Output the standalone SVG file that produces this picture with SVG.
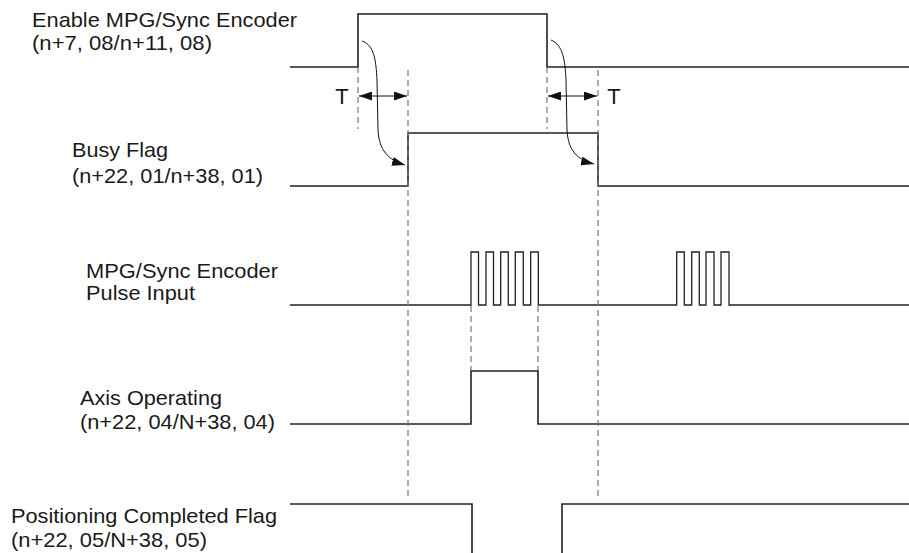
<svg xmlns="http://www.w3.org/2000/svg" width="909" height="553" viewBox="0 0 909 553">
<style>
text{font-family:"Liberation Sans",Arial,sans-serif;font-size:21px;fill:#1a1a1a}
.wave{fill:none;stroke:#222;stroke-width:1.6}
.dash{fill:none;stroke:#777;stroke-width:1.2;stroke-dasharray:6,4}
.arr{fill:none;stroke:#111;stroke-width:1}
.curve{fill:none;stroke:#111;stroke-width:1}
</style>
<defs>
<marker id="ah" viewBox="0 0 13 9" refX="13" refY="4.5" markerWidth="13" markerHeight="9" markerUnits="userSpaceOnUse" orient="auto-start-reverse">
<path d="M0,0 L13,4.5 L0,9 Z" fill="#111"/>
</marker>
</defs>
<g id="enable">
<text x="32" y="27" textLength="265" lengthAdjust="spacingAndGlyphs">Enable MPG/Sync Encoder</text>
<text x="32" y="50" textLength="180" lengthAdjust="spacingAndGlyphs">(n+7, 08/n+11, 08)</text>
<path class="wave" d="M290,67 H358 V14 H547 V67 H909"/>
</g>
<g id="busy">
<text x="72" y="157" textLength="96" lengthAdjust="spacingAndGlyphs">Busy Flag</text>
<text x="72" y="183" textLength="191" lengthAdjust="spacingAndGlyphs">(n+22, 01/n+38, 01)</text>
<path class="wave" d="M290,186 H408 V133 H598 V186 H909"/>
</g>
<g id="pulse">
<text x="86" y="278" textLength="192" lengthAdjust="spacingAndGlyphs">MPG/Sync Encoder</text>
<text x="86" y="300" textLength="109" lengthAdjust="spacingAndGlyphs">Pulse Input</text>
<path class="wave" style="stroke-width:1.3" d="M290,305 H471 V252 H478.5 V305 H486 V252 H493.5 V305 H500.7 V252 H508.3 V305 H515.3 V252 H523.3 V305 H530.7 V252 H538.3 V305 H676.7 V252 H684.3 V305 H691.7 V252 H699.3 V305 H706 V252 H714 V305 H721 V252 H729 V305 H909"/>
</g>
<g id="axis">
<text x="80" y="405" textLength="142" lengthAdjust="spacingAndGlyphs">Axis Operating</text>
<text x="80" y="429" textLength="195" lengthAdjust="spacingAndGlyphs">(n+22, 04/N+38, 04)</text>
<path class="wave" d="M290,424 H471 V371 H538 V424 H909"/>
</g>
<g id="positioning">
<text x="11" y="523" textLength="266" lengthAdjust="spacingAndGlyphs">Positioning Completed Flag</text>
<text x="11" y="547" textLength="196" lengthAdjust="spacingAndGlyphs">(n+22, 05/N+38, 05)</text>
<path class="wave" d="M290,504 H472 V553 M562,553 V504 H909"/>
</g>
<g id="connectors">
<path class="dash" d="M358,67 V129 M547,67 V129 M408,70 V500 M598,70 V500 M471,306 V370 M538,306 V370"/>
<path class="arr" d="M359,96 H407" marker-start="url(#ah)" marker-end="url(#ah)"/>
<path class="arr" d="M548,96 H597" marker-start="url(#ah)" marker-end="url(#ah)"/>
<path class="curve" d="M362,41 C374,45 376,60 377,80 L378,130 C379,150 388,160 405,165" marker-end="url(#ah)"/>
<path class="curve" d="M551,40 C563,45 565,60 566,80 L567,130 C568,150 577,160 594,164" marker-end="url(#ah)"/>
<text x="342" y="104" text-anchor="middle" style="font-size:22px">T</text>
<text x="614" y="104" text-anchor="middle" style="font-size:22px">T</text>
</g>
</svg>
